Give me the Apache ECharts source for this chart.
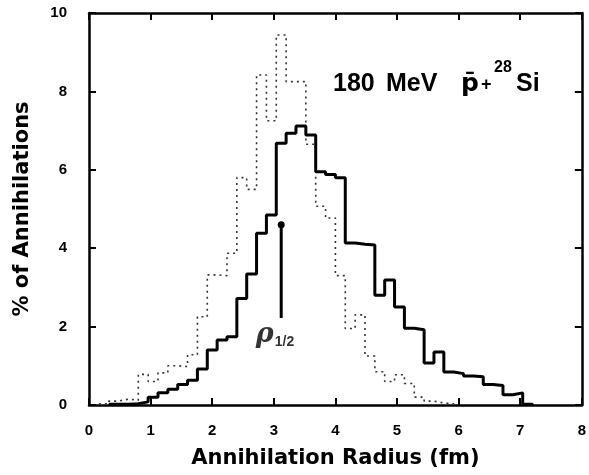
<!DOCTYPE html>
<html>
<head>
<meta charset="utf-8">
<script src="https://cdn.jsdelivr.net/npm/echarts@6/dist/echarts.min.js"></script>
<style>
  html, body { margin: 0; padding: 0; background: #fff; }
  #chart { width: 589px; height: 475px; }
</style>
</head>
<body>
<div id="chart"></div>
<script>
// histogram bins, 0.16 fm wide
const binWidth = 0.16
// solid curve (starts at 0.32 fm)
const solidStart = 0.32
const solidPct = [0.02, 0.02, 0.03, 0.08, 0.2, 0.31, 0.4, 0.52, 0.63, 0.92,
  1.40, 1.66, 1.74, 2.72, 3.34, 4.38, 4.85, 6.68, 6.93, 7.12,
  6.89, 5.95, 5.88, 5.8, 4.13, 4.1, 4.08, 2.8, 3.19, 2.5,
  1.96, 1.92, 1.07, 1.35, 0.84, 0.8, 0.74, 0.72, 0.52, 0.5,
  0.26, 0.31, 0.02]
// dotted curve (starts at 0.16 fm)
const dottedStart = 0.16
const dottedPct = [0.03, 0.1, 0.15, 0.12, 0.78, 0.6, 0.82, 1.0, 0.98, 1.28,
  2.25, 3.32, 3.3, 3.87, 5.8, 5.5, 8.42, 7.25, 9.44, 8.25,
  8.25, 6.65, 5.07, 4.77, 3.3, 1.95, 2.3, 1.25, 0.85, 0.6,
  0.77, 0.55, 0.2, 0.1, 0.05, 0.03]
// rho 1/2 marker: from bottom to top (x fm, y %)
const rhoArrow = [[3.12, 2.22], [3.12, 4.6]]
const rhoLabelAt = [3.02, 1.78]

const xTicks = ['0', '1', '2', '3', '4', '5', '6', '7', '8']

function steps(start, vals){
  let pts = vals.map((v, i) => [+(start + i * binWidth).toFixed(2), v])
  pts.push([+(start + vals.length * binWidth).toFixed(2), 0])
  return pts
}

const font = 'Liberation Sans'
let charts = echarts.init(document.getElementById('chart'))

const axisBase = {
  axisLine: { onZero: false, lineStyle: { color: '#000', width: 2.5 } },
  axisTick: { inside: true, length: 7, lineStyle: { color: '#000', width: 2 } },
  splitLine: { show: false }
}

let option = {
  animation: false,
  backgroundColor: '#fff',
  grid: { left: 89, right: 4, top: 13, bottom: 70 },
  xAxis: [
    Object.assign({}, axisBase, {
      type: 'value', min: 0, max: 8, interval: 1,
      name: 'Annihilation Radius (fm)',
      nameLocation: 'middle', nameGap: 43,
      nameTextStyle: { fontFamily: 'DejaVu Sans', fontWeight: 'bold', fontSize: 21, color: '#000' },
      axisLabel: { margin: 18, color: '#000', fontFamily: font, fontWeight: 'bold', fontSize: 15,
        formatter: v => xTicks[v] }
    }),
    Object.assign({}, axisBase, {
      type: 'value', min: 0, max: 8, interval: 1, position: 'top',
      axisLabel: { show: false }
    })
  ],
  yAxis: [
    Object.assign({}, axisBase, {
      type: 'value', min: 0, max: 10, interval: 2,
      name: '% of Annihilations',
      nameLocation: 'middle', nameGap: 56,
      nameTextStyle: { fontFamily: 'DejaVu Sans', fontWeight: 'bold', fontSize: 21, color: '#000' },
      axisLabel: { margin: 22, color: '#000', fontFamily: font, fontWeight: 'bold', fontSize: 15 }
    }),
    Object.assign({}, axisBase, {
      type: 'value', min: 0, max: 10, interval: 2, position: 'right',
      axisLabel: { show: false }
    })
  ],
  series: [
    {
      type: 'line', step: 'end', symbol: 'none',
      lineStyle: { color: '#333', width: 1.6, type: [2, 4] },
      data: steps(dottedStart, dottedPct)
    },
    {
      type: 'line', step: 'end', symbol: 'none',
      lineStyle: { color: '#000', width: 3 },
      data: steps(solidStart, solidPct)
    },
    {
      type: 'line', showSymbol: true,
      itemStyle: { color: '#000' },
      lineStyle: { color: '#000', width: 3 },
      data: rhoArrow.map((p, i) => ({ value: p, symbol: i ? 'circle' : 'none', symbolSize: i ? 7 : 0 }))
    },
    {
      type: 'scatter', symbolSize: 0,
      label: {
        show: true, position: 'inside',
        formatter: '{r|ρ}{s|1/2}',
        rich: {
          r: { fontFamily: 'DejaVu Serif', fontStyle: 'italic', fontWeight: 'bold', fontSize: 27, color: '#000' },
          s: { fontFamily: font, fontWeight: 'bold', fontSize: 14, color: '#000', padding: [14, 0, 0, 1] }
        }
      },
      data: [rhoLabelAt]
    }
  ],
  graphic: [
    { type: 'text', left: 333, top: 72, style: { text: '180', font: 'bold 25px Liberation Sans', fill: '#000' } },
    { type: 'text', left: 386, top: 72, style: { text: 'MeV', font: 'bold 25px Liberation Sans', fill: '#000' } },
    { type: 'text', left: 461, top: 72, style: { text: 'p\u0304', font: 'bold 25px DejaVu Sans', fill: '#000' } },
    { type: 'text', left: 481, top: 76, style: { text: '+', font: 'bold 18px Liberation Sans', fill: '#000' } },
    { type: 'text', left: 494, top: 60, style: { text: '28', font: 'bold 16px Liberation Sans', fill: '#000' } },
    { type: 'text', left: 516, top: 72, style: { text: 'Si', font: 'bold 25px Liberation Sans', fill: '#000' } }
  ]
}
charts.setOption(option)
</script>
</body>
</html>
